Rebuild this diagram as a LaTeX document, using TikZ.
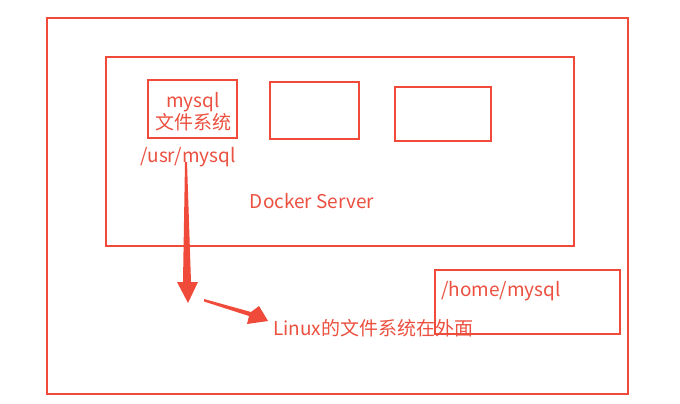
\documentclass[tikz,border=0pt]{standalone}
\usepackage{fontspec}
\setmainfont{Noto Sans CJK SC}
\definecolor{lred}{RGB}{240,74,58}
\definecolor{tred}{RGB}{236,80,64}
\begin{document}
\begin{tikzpicture}[x=1pt,y=-1pt,
  box/.style={draw=lred,line width=2.8pt},
  lbl/.style={text=tred,font=\fontsize{19}{22}\selectfont,inner sep=0pt},
  arr/.style={fill=lred,draw=none}]
\useasboundingbox (0,0) rectangle (680,404);
\fill[white] (0,0) rectangle (680,404);
\draw[box] (47,18) rectangle (628,394);
\draw[box] (106,57) rectangle (574,246);
\draw[box] (148,80) rectangle (237,138);
\draw[box] (270,82) rectangle (359,139);
\draw[box] (395,87) rectangle (491,141);
\draw[box] (435,270) rectangle (620,334);
\node[lbl,align=center] (m) at (193,112) {\fontsize{19}{22}\selectfont mysql\\文件系统};
\node[lbl] (usr) at (188,157) {/usr/mysql};
\node[lbl] (ds) at (312,201) {Docker Server};
\node[lbl,anchor=west] (home) at (441,291) {/home/mysql};
\node[lbl,anchor=west] (lin) at (273,328) {Linux的文件系统在外面};
% tapered arrows
\coordinate (a1t) at (186,162);
\coordinate (a1h) at (188,303);
\fill[arr] (185,162) -- (187,162) -- (191,282) -- (198,282) -- (a1h) -- (177,282) -- (183,282) -- cycle;
\coordinate (a2t) at (204,300);
\coordinate (a2h) at (268,321);
\fill[arr] (204,299) -- (251,312) -- (259,306) -- (a2h) -- (247,324) -- (249,316) -- (204,301.5) -- cycle;
\end{tikzpicture}
\end{document}
